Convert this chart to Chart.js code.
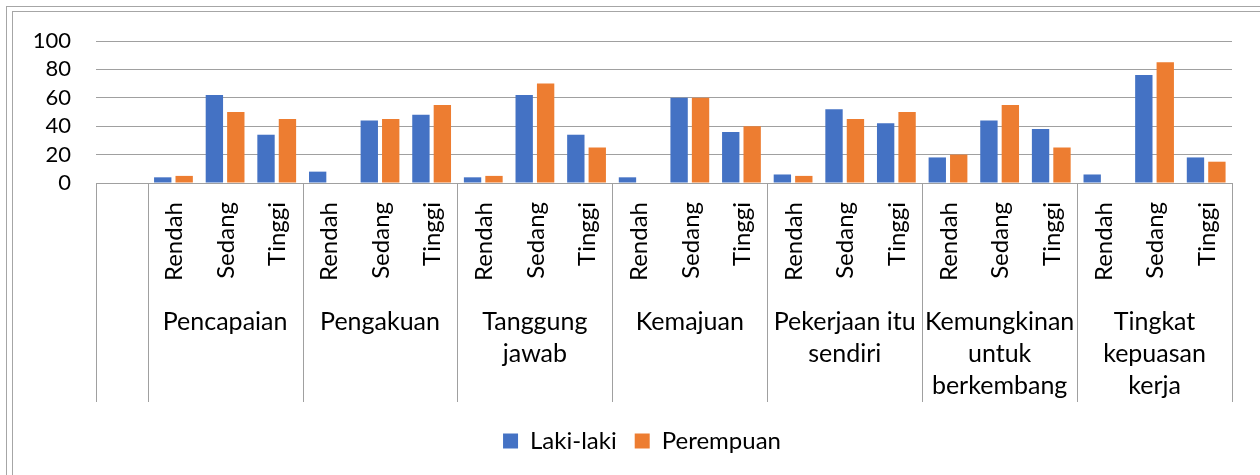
<!DOCTYPE html>
<html>
<head>
<meta charset="utf-8">
<script src="https://cdn.jsdelivr.net/npm/chart.js@4.4.1/dist/chart.umd.min.js"></script>
<style>
  html, body { margin: 0; padding: 0; background: #fff; }
  #wrap { position: relative; width: 1260px; height: 475px; overflow: hidden; }
  .frame { position: absolute; border: 1px solid #a6a6a6; right: -20px; bottom: -20px; }
  #f1 { left: 6px; top: 6px; }
  #f2 { left: 12px; top: 11px; }
  canvas { position: absolute; left: 0; top: 0; }
</style>
</head>
<body>
<div id="wrap">
  <div class="frame" id="f1"></div>
  <div class="frame" id="f2"></div>
  <canvas id="chart"></canvas>
</div>
<script>
// level names under each bar pair (first slot is an empty category, as in the sheet)
const subLabels = ['',
  'Rendah', 'Sedang', 'Tinggi',
  'Rendah', 'Sedang', 'Tinggi',
  'Rendah', 'Sedang', 'Tinggi',
  'Rendah', 'Sedang', 'Tinggi',
  'Rendah', 'Sedang', 'Tinggi',
  'Rendah', 'Sedang', 'Tinggi',
  'Rendah', 'Sedang', 'Tinggi'];

// outer category level, already wrapped the way excel wraps it
const groupLabels = [
  ['Pencapaian'],
  ['Pengakuan'],
  ['Tanggung', 'jawab'],
  ['Kemajuan'],
  ['Pekerjaan itu', 'sendiri'],
  ['Kemungkinan', 'untuk', 'berkembang'],
  ['Tingkat', 'kepuasan', 'kerja']
];

const lakiLaki = [null,
  4, 62, 34,
  8, 44, 48,
  4, 62, 34,
  4, 60, 36,
  6, 52, 42,
  18, 44, 38,
  6, 76, 18];

const perempuan = [null,
  5, 50, 45,
  0, 45, 55,
  5, 70, 25,
  0, 60, 40,
  5, 45, 50,
  20, 55, 25,
  0, 85, 15];

const yTicks = [0, 20, 40, 60, 80, 100];

const FONT = 'Lato';
const gridColor = '#a0a0a0';

// two-level category axis: rotated level names, group names, separators
const groupAxis = {
  id: 'groupAxis',
  afterLayout(chart) {
    // excel centres the legend on the plot, not on the whole canvas
    if (chart.legend) chart.legend.left += 52;
  },
  afterDraw(chart) {
    const { ctx, chartArea } = chart;
    const x = chart.scales.x;
    const n = subLabels.length;
    const edge = i => {
      if (i <= 0) return x.left;
      if (i >= n) return x.right;
      return (x.getPixelForValue(i - 1) + x.getPixelForValue(i)) / 2;
    };
    const top = chartArea.bottom;
    const bottom = top + 219;

    // group boundaries: empty slot, then groups of 3
    const bounds = [0, 1];
    groupLabels.forEach((g, k) => bounds.push(1 + (k + 1) * 3));

    ctx.save();
    ctx.strokeStyle = gridColor;
    ctx.lineWidth = 1;
    bounds.forEach(b => {
      const px = Math.round(edge(b)) + 0.5;
      ctx.beginPath();
      ctx.moveTo(px, top);
      ctx.lineTo(px, bottom);
      ctx.stroke();
    });

    ctx.fillStyle = '#000';

    // level names, reading bottom to top
    ctx.font = '24px ' + FONT;
    ctx.textAlign = 'right';
    ctx.textBaseline = 'middle';
    subLabels.forEach((t, i) => {
      if (!t) return;
      ctx.save();
      ctx.translate(x.getPixelForValue(i) + 1, top + 19);
      ctx.rotate(-Math.PI / 2);
      ctx.fillText(t, 0, 0);
      ctx.restore();
    });

    ctx.font = '25px ' + FONT;
    ctx.textAlign = 'center';
    groupLabels.forEach((lines, k) => {
      const start = 1 + k * 3;
      const cx = (edge(start) + edge(start + 3)) / 2;
      lines.forEach((t, j) => {
        ctx.fillText(t, cx, top + 139 + j * 32);
      });
    });
    ctx.restore();
  }
};

const ctx = document.getElementById('chart').getContext('2d');

const chart = new Chart(ctx, {
  type: 'bar',
  data: {
    labels: subLabels,
    datasets: [
      {
        label: 'Laki-laki',
        data: lakiLaki,
        backgroundColor: '#4472C4',
        categoryPercentage: 0.83,
        barPercentage: 0.81
      },
      {
        label: 'Perempuan',
        data: perempuan,
        backgroundColor: '#ED7D31',
        categoryPercentage: 0.83,
        barPercentage: 0.81
      }
    ]
  },
  options: {
    responsive: true,
    maintainAspectRatio: false,
    animation: false,
    layout: { padding: { top: 41, right: 28, bottom: 12, left: 0 } },
    plugins: {
      legend: {
        position: 'bottom',
        labels: {
          font: { family: FONT, size: 24 },
          color: '#000',
          boxWidth: 15,
          boxHeight: 15,
          padding: 18
        }
      },
      tooltip: { enabled: false }
    },
    scales: {
      x: {
        grid: { display: false, drawTicks: false },
        border: { display: false },
        ticks: { display: false },
        afterFit: s => { s.height = 228; }
      },
      y: {
        min: 0,
        max: 100,
        afterBuildTicks: s => { s.ticks = yTicks.map(v => ({ value: v })); },
        grid: { color: gridColor, lineWidth: 1, drawTicks: false },
        border: { display: false },
        ticks: {
          font: { family: FONT, size: 22 },
          color: '#000',
          padding: 25,
          autoSkip: false
        },
        afterFit: s => { s.width = 96; }
      }
    }
  },
  plugins: [groupAxis]
});
</script>
</body>
</html>
